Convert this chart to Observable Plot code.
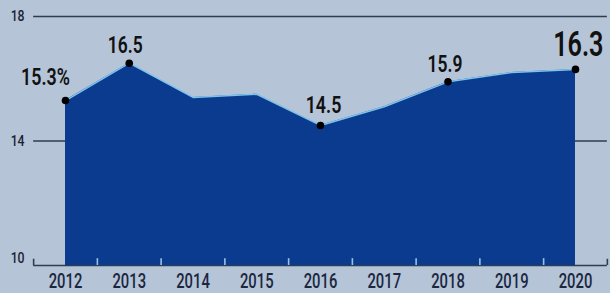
<!DOCTYPE html>
<html>
<head>
<meta charset="utf-8">
<script src="https://cdn.jsdelivr.net/npm/d3@7"></script>
<script src="https://cdn.jsdelivr.net/npm/@observablehq/plot@0.6"></script>
<style>
  html, body { margin: 0; padding: 0; background: #b5c4d7; }
  #chart svg { display: block; background: linear-gradient(to bottom, #b5c4d7 0px, #b5c4d7 266px, #82a8cf 266px, #82a8cf 293px); }
</style>
</head>
<body>
<div id="chart"></div>
<script>
const years = [2012, 2013, 2014, 2015, 2016, 2017, 2018, 2019, 2020];
const rates = [15.3, 16.5, 15.4, 15.5, 14.5, 15.1, 15.9, 16.2, 16.3];
const labelYears = [2012, 2013, 2016, 2018, 2020];
const labelTexts = ["15.3%", "16.5", "14.5", "15.9", "16.3"];
const yTicks = [10, 14, 18];
const yTickLabels = ["10", "14", "18"];
const xTickLabels = ["2012", "2013", "2014", "2015", "2016", "2017", "2018", "2019", "2020"];

const data = years.map((y, i) => ({year: y, rate: rates[i]}));
const labels = labelYears.map((y, i) => ({year: y, rate: rates[years.indexOf(y)], text: labelTexts[i]}));
const halfTicks = years.slice(0, -1).map(y => y + 0.5);
const gridX1 = years[0] - 0.5, gridX2 = years[years.length - 1] + 0.5;
const font = "Roboto, 'DejaVu Sans', sans-serif";
const lab = yr => labels.filter(d => d.year === yr);

const chart = Plot.plot({
  width: 610,
  height: 293,
  marginTop: 16,
  marginBottom: 28,
  marginLeft: 65,
  marginRight: 35,
  style: {background: "transparent", fontFamily: font, color: "#1b2233"},
  x: {domain: [years[0], years[years.length - 1]], axis: null},
  y: {domain: [10, 18], axis: null},
  marks: [
    Plot.ruleY(yTicks, {x1: gridX1, x2: gridX2, stroke: "#2e3d50", strokeWidth: 1.6}),
    Plot.ruleX([gridX1, gridX2], {y1: 10, y2: 10.2, stroke: "#2e3d50", strokeWidth: 1.6}),
    Plot.areaY(data, {x: "year", y1: 10, y2: "rate", fill: "#0b3b8e"}),
    Plot.line(data, {x: "year", y: "rate", stroke: "#7fc3ec", strokeWidth: 1.5}),
    Plot.ruleX(halfTicks, {y1: 10, y2: 10.22, stroke: "#9cc0e4", strokeWidth: 1.6}),
    Plot.text(yTicks.filter(v => v !== 10), {x: gridX1, y: d => d, text: d => yTickLabels[yTicks.indexOf(d)], textAnchor: "start", dx: -23, fontSize: 15, fontWeight: 500, fill: "#1b2233", className: "c82"}),
    Plot.text(yTicks.filter(v => v === 10), {x: gridX1, y: d => d, text: d => yTickLabels[yTicks.indexOf(d)], textAnchor: "start", dx: -23, dy: -7, fontSize: 15, fontWeight: 500, fill: "#1b2233", className: "c82"}),
    Plot.text(years, {x: d => d, y: 10, text: (d, i) => xTickLabels[i], lineAnchor: "bottom", dy: 22, fontSize: 20, fontWeight: 500, fill: "#1b2740", className: "c74"}),
    Plot.dot(labels, {x: "year", y: "rate", r: 3.8, fill: "#000"}),
    Plot.text(lab(2012), {x: "year", y: "rate", text: "text", lineAnchor: "bottom", dx: -20, dy: -16, fontSize: 23.5, fontWeight: 600, fill: "#111", className: "c76"}),
    Plot.text(lab(2013), {x: "year", y: "rate", text: "text", lineAnchor: "bottom", dx: -4, dy: -10, fontSize: 23, fontWeight: 600, fill: "#111", className: "c76"}),
    Plot.text(lab(2016), {x: "year", y: "rate", text: "text", lineAnchor: "bottom", dx: 3, dy: -12, fontSize: 23.5, fontWeight: 600, fill: "#111", className: "c76"}),
    Plot.text(lab(2018), {x: "year", y: "rate", text: "text", lineAnchor: "bottom", dx: -3, dy: -10, fontSize: 23, fontWeight: 600, fill: "#111", className: "c76"}),
    Plot.text(lab(2020), {x: "year", y: "rate", text: "text", lineAnchor: "bottom", textAnchor: "end", dx: 28, dy: -13, fontSize: 35, fontWeight: 600, fill: "#111", className: "c72"})
  ]
});
document.getElementById("chart").appendChild(chart);
const factors = {c82: 0.82, c74: 0.74, c76: 0.76, c72: 0.72};
for (const [cls, f] of Object.entries(factors)) {
  chart.querySelectorAll(`g.${cls} text`).forEach(t => {
    const tr = t.getAttribute("transform") || "";
    t.setAttribute("transform", `${tr} scale(${f},1)`);
  });
}
</script>
</body>
</html>
